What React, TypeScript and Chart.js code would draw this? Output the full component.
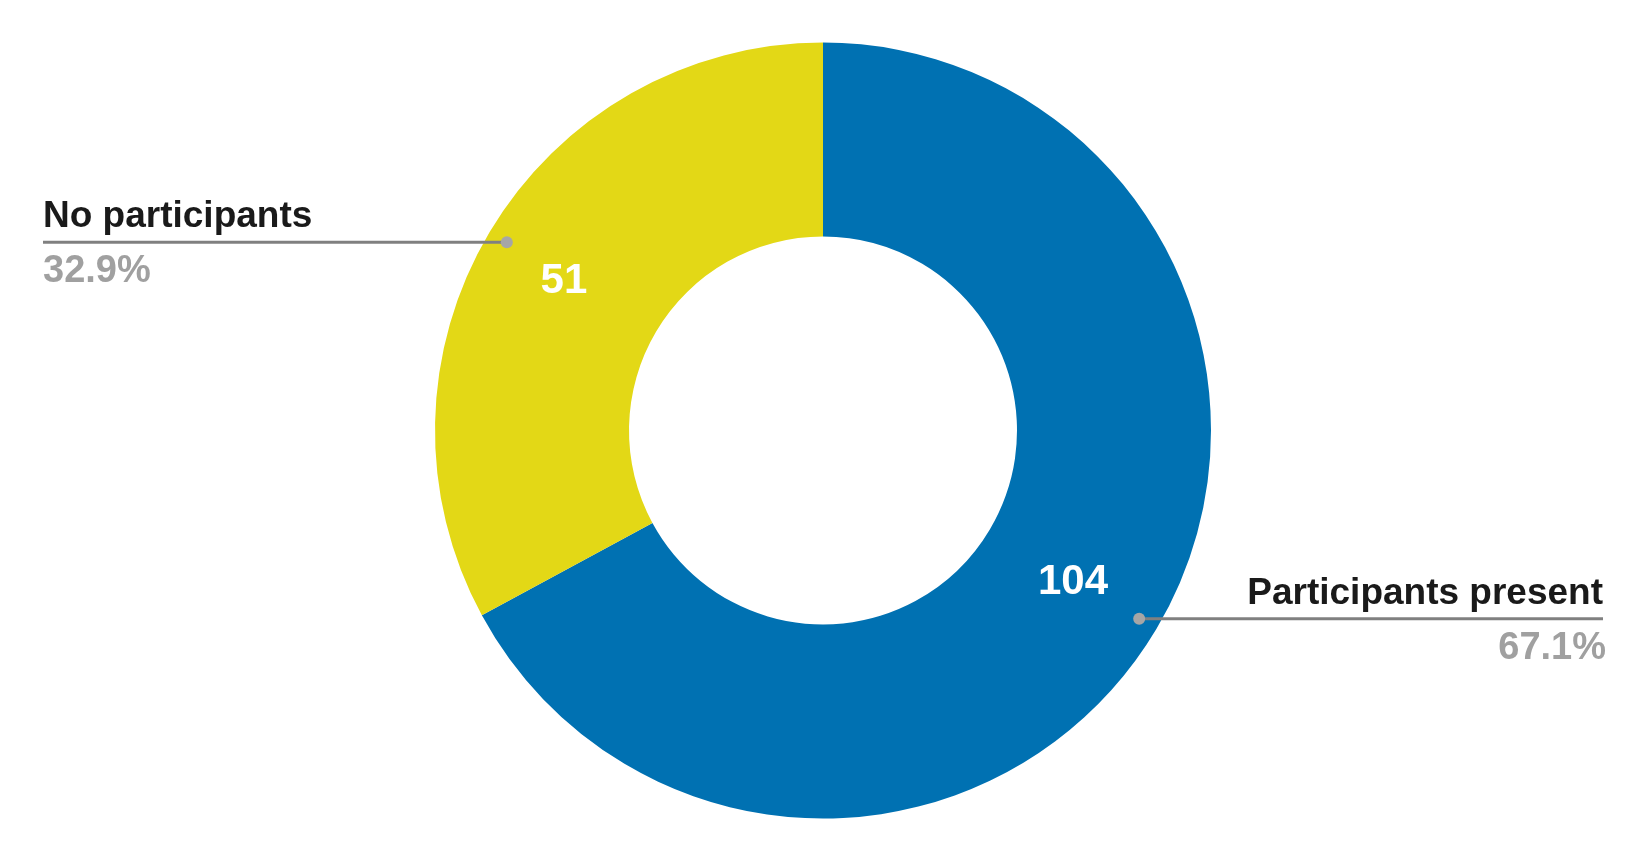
import React, { useEffect, useRef } from "react";
import { Chart, registerables } from "chart.js";

Chart.register(...registerables);

const categories = ["Participants present", "No participants"];
const values = [104, 51];
const percentLabels = ["67.1%", "32.9%"];
const colors = ["#0071B2", "#E3D816"];

const W = 1646;
const H = 862;
const FONT = '"Liberation Sans", Arial, Helvetica, sans-serif';

const calloutPlugin = {
  id: "callouts",
  afterDatasetsDraw(chart: any) {
    const ctx = chart.ctx;
    const meta = chart.getDatasetMeta(0);
    const edge = 43;
    ctx.save();
    meta.data.forEach((arc: any, i: number) => {
      const { x, y, startAngle, endAngle, innerRadius, outerRadius } = arc.getProps(
        ["x", "y", "startAngle", "endAngle", "innerRadius", "outerRadius"],
        true
      );
      const mid = (startAngle + endAngle) / 2;
      const cos = Math.cos(mid);
      const sin = Math.sin(mid);
      const right = cos >= 0;
      // value label in ring centre
      const rc = (innerRadius + outerRadius) / 2;
      ctx.fillStyle = "#ffffff";
      ctx.font = `bold 42px ${FONT}`;
      ctx.textAlign = "center";
      ctx.textBaseline = "middle";
      ctx.fillText(String(values[i]), x + cos * rc + (right ? 0 : -9), y + sin * rc + (right ? 3 : 0));

      // leader dot + line
      const rd = outerRadius - 20;
      const dx = x + cos * rd;
      const dy = y + sin * rd;
      const endX = right ? chart.width - edge : edge;
      ctx.strokeStyle = "#808080";
      ctx.lineWidth = 3;
      ctx.beginPath();
      ctx.moveTo(dx, dy);
      ctx.lineTo(endX, dy);
      ctx.stroke();
      ctx.fillStyle = "#a6a6a6";
      ctx.beginPath();
      ctx.arc(dx, dy, 6, 0, Math.PI * 2);
      ctx.fill();

      ctx.textAlign = right ? "right" : "left";
      ctx.textBaseline = "alphabetic";
      ctx.fillStyle = "#1a1a1a";
      ctx.font = `bold 37px ${FONT}`;
      ctx.fillText(categories[i], endX, dy - 15);
      ctx.fillStyle = "#a0a0a0";
      ctx.font = `bold 38px ${FONT}`;
      ctx.fillText(percentLabels[i], endX + (right ? 3 : 0), dy + 40);
    });
    ctx.restore();
  },
};

export default function App() {
  const ref = useRef<HTMLCanvasElement>(null);
  useEffect(() => {
    if (!ref.current) return;
    const chart = new Chart(ref.current, {
      type: "doughnut",
      data: {
        labels: categories,
        datasets: [
          {
            data: values,
            backgroundColor: colors,
            borderWidth: 0,
          },
        ],
      },
      options: {
        responsive: false,
        animation: false,
        cutout: "50%",
        layout: { padding: { top: 42.5, bottom: 43.5, left: 0, right: 0 } },
        plugins: {
          legend: { display: false },
          tooltip: { enabled: false },
        },
      },
      plugins: [calloutPlugin],
    });
    return () => chart.destroy();
  }, []);
  return (
    <div style={{ position: "absolute", left: 0, top: 0, width: W, height: H, background: "#fff" }}>
      <canvas ref={ref} width={W} height={H} style={{ width: W, height: H, display: "block" }} />
    </div>
  );
}
